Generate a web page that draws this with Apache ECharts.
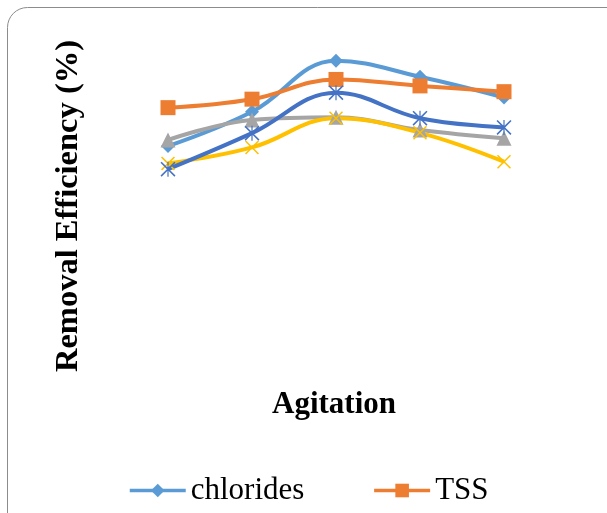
<!DOCTYPE html>
<html>
<head>
<meta charset="utf-8">
<script src="https://cdn.jsdelivr.net/npm/echarts@6/dist/echarts.min.js"></script>
<style>
html,body{margin:0;padding:0;background:#fff;}
#c{width:607px;height:513px;}
</style>
</head>
<body>
<div id="c"></div>
<script>
// Data (y scale is hidden, estimated 0-100)
var categories = ['1', '2', '3', '4', '5'];
var chlorides = [68.8, 78.9, 93.9, 89.2, 83.1];
var tss = [80.1, 82.6, 88.4, 86.5, 84.8];
var series3 = [70.6, 76.5, 77.3, 73.5, 71.1];
var series4 = [63.7, 68.4, 77.0, 72.7, 64.2];
var series5 = [62.0, 72.6, 84.5, 77.0, 74.3];
var seriesNames = ['chlorides', 'TSS', 'Series3', 'Series4', 'Series5'];
var yTitle = 'Removal Efficiency (%)';
var xTitle = 'Agitation';

var xPath = 'path://M0,1.5 L1.5,0 L10,8.5 L18.5,0 L20,1.5 L11.5,10 L20,18.5 L18.5,20 L10,11.5 L1.5,20 L0,18.5 L8.5,10 Z';
var starPath = 'path://M0,1.5 L1.5,0 L10,8.5 L18.5,0 L20,1.5 L11.5,10 L20,18.5 L18.5,20 L10,11.5 L1.5,20 L0,18.5 L8.5,10 Z M9.2,0 L10.8,0 L10.8,20 L9.2,20 Z';

function mk(name, data, color, symbol, size) {
  return {
    name: name, type: 'line', data: data, smooth: 0.4,
    symbol: symbol, symbolSize: size,
    lineStyle: {color: color, width: 4},
    itemStyle: {color: color},
    emphasis: {disabled: true}
  };
}

var chart = echarts.init(document.getElementById('c'), null, {renderer: 'canvas'});
chart.setOption({
  animation: false,
  backgroundColor: '#fff',
  grid: {left: 126, right: 61, top: 40, bottom: 133},
  xAxis: {type: 'category', data: categories, boundaryGap: true, show: false},
  yAxis: {type: 'value', min: 0, max: 100, show: false},
  legend: {
    data: ['chlorides', 'TSS'],
    left: 123, top: 470,
    itemWidth: 56, itemHeight: 17, itemGap: 68,
    lineStyle: {width: 3.5},
    textStyle: {fontFamily: 'Liberation Serif', fontSize: 31, color: '#000'}
  },
  graphic: [
    {type: 'rect', shape: {x: 7.5, y: 7.5, width: 720, height: 620, r: 20},
     style: {fill: 'none', stroke: '#8c8c8c', lineWidth: 1}, silent: true, z: -1},
    {type: 'text', x: 69, y: 206, rotation: Math.PI / 2,
     style: {text: yTitle, fontFamily: 'Liberation Serif', fontWeight: 'bold', fontSize: 32.5,
             fill: '#000', align: 'center', verticalAlign: 'middle'}},
    {type: 'text', x: 334, y: 405,
     style: {text: xTitle, fontFamily: 'Liberation Serif', fontWeight: 'bold', fontSize: 31,
             fill: '#000', align: 'center', verticalAlign: 'middle'}}
  ],
  series: [
    mk(seriesNames[0], chlorides, '#5B9BD5', 'diamond', 14),
    mk(seriesNames[1], tss, '#ED7D31', 'rect', 15),
    mk(seriesNames[2], series3, '#A5A5A5', 'triangle', 15),
    mk(seriesNames[3], series4, '#FFC000', xPath, 14),
    mk(seriesNames[4], series5, '#4472C4', starPath, 15)
  ]
});
</script>
</body>
</html>
